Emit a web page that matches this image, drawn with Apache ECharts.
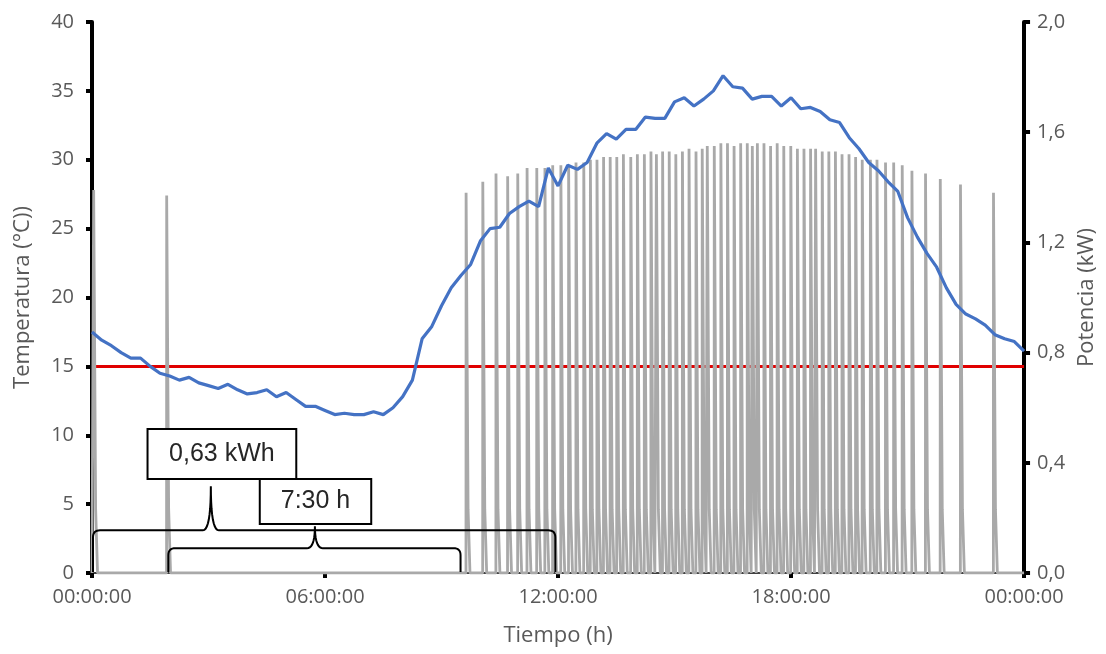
<!DOCTYPE html>
<html><head><meta charset="utf-8">
<script src="https://cdn.jsdelivr.net/npm/echarts@6/dist/echarts.min.js"></script>
<style>html,body{margin:0;padding:0;background:#fff}#c{width:1106px;height:654px}</style>
</head><body><div id="c"></div>
<script>
// ---- data ----
const tempStepHours = 0.25;
const temperature = [
  17.5,16.9,16.5,16.0,15.6,15.6,15.0,14.5,14.3,14.0,14.2,13.8,13.6,13.4,13.7,13.3,
  13.0,13.1,13.3,12.8,13.1,12.6,12.1,12.1,11.8,11.5,11.6,11.5,11.5,11.7,11.5,12.0,
  12.8,14.0,17.0,17.9,19.4,20.7,21.6,22.4,24.1,25.0,25.1,26.1,26.6,27.0,26.6,29.4,
  28.1,29.6,29.3,29.8,31.2,31.9,31.5,32.2,32.2,33.1,33.0,33.0,34.2,34.5,33.9,34.4,
  35.0,36.1,35.3,35.2,34.4,34.6,34.6,33.9,34.5,33.7,33.8,33.5,32.9,32.7,31.6,30.8,
  29.8,29.2,28.4,27.7,25.8,24.4,23.2,22.2,20.7,19.5,18.8,18.45,18.0,17.3,17.0,16.8,
  16.1
];
const setpoint = 15;
const spikeTimes = [
  0.04,1.92,
  9.63,10.06,10.40,10.70,10.96,11.20,11.45,11.66,11.86,12.07,12.27,12.46,12.66,12.83,
  13.00,13.17,13.34,13.51,13.68,13.87,14.04,14.22,14.39,14.53,14.69,14.86,15.03,15.20,
  15.37,15.55,15.71,15.84,16.02,16.19,16.36,16.53,16.70,16.87,17.00,17.13,17.30,17.47,
  17.64,17.81,17.99,18.16,18.33,18.50,18.63,18.80,18.97,19.14,19.31,19.49,19.66,19.83,
  20.04,20.21,20.43,20.64,20.86,21.11,21.46,21.84,22.36,23.21
];
const spikePeaks = [
  1.39,1.37,
  1.38,1.42,1.45,1.44,1.45,1.47,1.47,1.47,1.48,1.48,1.48,1.49,1.49,1.50,
  1.50,1.51,1.51,1.51,1.52,1.51,1.52,1.52,1.53,1.52,1.53,1.53,1.52,1.53,
  1.54,1.53,1.54,1.55,1.55,1.56,1.56,1.55,1.56,1.56,1.55,1.56,1.56,1.55,
  1.56,1.55,1.55,1.54,1.54,1.54,1.54,1.53,1.53,1.53,1.52,1.52,1.51,1.50,
  1.50,1.50,1.49,1.49,1.48,1.46,1.45,1.43,1.41,1.38
];
const plateauPower = 0.23;
const timeTickLabels = ['00:00:00','06:00:00','12:00:00','18:00:00','00:00:00'];

// annotation layout (in data units: hours / °C)
const notes = [
  {label:'0,63 kWh', from:0.0, to:11.93, level:3.1, tip:3.06, tipLevel:6.3, box:[1.43,5.26,6.82,10.45]},
  {label:'7:30 h',   from:1.94, to:9.49, level:1.8, tip:5.74, tipLevel:3.4, box:[4.32,7.19,3.56,6.82]}
];

// ---- build series ----
const tempData = temperature.map((t,i)=>[i*tempStepHours, t]);
const powerData = [[0,0]];
spikeTimes.forEach((t,i)=>{
  const p = spikePeaks[i];
  powerData.push([t,0],[t+0.003,p],[t+0.05,p],[t+0.054,plateauPower],[t+0.1,plateauPower],[t+0.103,0]);
});
powerData.push([24,0]);
const setData = [[0,setpoint],[24,setpoint]];

function quad(p0,c,p1,n){
  const out=[];
  for(let k=1;k<=n;k++){const s=k/n;
    out.push([(1-s)*(1-s)*p0[0]+2*(1-s)*s*c[0]+s*s*p1[0],(1-s)*(1-s)*p0[1]+2*(1-s)*s*c[1]+s*s*p1[1]]);}
  return out;
}

const fontFam = '"Open Sans", sans-serif';
const labelColor = '#595959';

const chart = echarts.init(document.getElementById('c'), null, {renderer:'canvas'});
chart.setOption({
  animation:false,
  backgroundColor:'#fff',
  grid:{left:92, right:80, top:22, bottom:81, containLabel:false},
  xAxis:{
    type:'value', min:0, max:24, interval:6,
    axisLine:{show:true, onZero:false, lineStyle:{color:'#404040', width:2}},
    axisTick:{show:true, length:5, lineStyle:{color:'#000', width:4}},
    splitLine:{show:false},
    axisLabel:{color:labelColor, fontFamily:fontFam, fontSize:20, margin:14,
      formatter:(v)=>timeTickLabels[Math.round(v/6)]},
    name:'Tiempo (h)', nameLocation:'middle', nameGap:52,
    nameTextStyle:{color:labelColor, fontFamily:fontFam, fontSize:22}
  },
  yAxis:[{
    type:'value', min:0, max:40, interval:5, position:'left',
    axisLine:{show:true, lineStyle:{color:'#000', width:4}},
    axisTick:{show:true, length:6, lineStyle:{color:'#000', width:4}},
    splitLine:{show:false},
    axisLabel:{color:labelColor, fontFamily:fontFam, fontSize:20, margin:18},
    name:'Temperatura (°C))', nameLocation:'middle', nameGap:58, nameRotate:90,
    nameTextStyle:{color:labelColor, fontFamily:fontFam, fontSize:22}
  },{
    type:'value', min:0, max:2, interval:0.4, position:'right',
    axisLine:{show:true, lineStyle:{color:'#000', width:4}},
    axisTick:{show:true, length:6, lineStyle:{color:'#000', width:4}},
    splitLine:{show:false},
    axisLabel:{color:labelColor, fontFamily:fontFam, fontSize:20, margin:13,
      formatter:(v)=>v.toFixed(1).replace('.',',')},
    name:'Potencia (kW)', nameLocation:'middle', nameGap:50, nameRotate:90,
    nameTextStyle:{color:labelColor, fontFamily:fontFam, fontSize:22}
  }],
  series:[
    {type:'line', name:'Consigna', data:setData, yAxisIndex:0, showSymbol:false, z:2,
      lineStyle:{color:'#e00000', width:3}},
    {type:'line', name:'Potencia', data:powerData, yAxisIndex:1, showSymbol:false, z:3,
      lineStyle:{color:'#a9a9a9', width:2.8}},
    {type:'line', name:'Temperatura', data:tempData, yAxisIndex:0, showSymbol:false, z:4,
      lineStyle:{color:'#4472c4', width:3.2}},
    {type:'custom', name:'notes', coordinateSystem:'cartesian2d', xAxisIndex:0, yAxisIndex:0, z:10, clip:false,
      data:notes.map((n,i)=>[n.tip, n.tipLevel]),
      renderItem:(params, api)=>{
        const n = notes[params.dataIndex];
        const base = api.coord([0,0])[1]-1;
        const yTop = api.coord([0,n.level])[1];
        const x0 = api.coord([n.from,0])[0]+1, x1 = api.coord([n.to,0])[0];
        const xm = api.coord([n.tip,0])[0], yTip = api.coord([0,n.tipLevel])[1];
        const r = 7, w = 8;
        let pts = [[x0,base],[x0,yTop+r]];
        pts = pts.concat(quad([x0,yTop+r],[x0,yTop],[x0+r,yTop],8));
        pts.push([xm-w,yTop]);
        pts = pts.concat(quad([xm-w,yTop],[xm,yTop],[xm,yTip],10));
        pts = pts.concat(quad([xm,yTip],[xm,yTop],[xm+w,yTop],10));
        pts.push([x1-r,yTop]);
        pts = pts.concat(quad([x1-r,yTop],[x1,yTop],[x1,yTop+r],8));
        pts.push([x1,base]);
        const bl = api.coord([n.box[0], n.box[3]]);
        const br = api.coord([n.box[1], n.box[2]]);
        return {type:'group', children:[
          {type:'polyline', shape:{points:pts}, style:{stroke:'#000', lineWidth:2, fill:null}},
          {type:'rect', shape:{x:bl[0], y:bl[1], width:br[0]-bl[0], height:br[1]-bl[1]},
            style:{fill:'#fff', stroke:'#000', lineWidth:2}},
          {type:'text', x:(bl[0]+br[0])/2, y:(bl[1]+br[1])/2,
            style:{text:n.label, fill:'#262626', font:'25px "Liberation Sans", Arial, sans-serif', align:'center', verticalAlign:'middle'}}
        ]};
      }
    }
  ]
});
</script></body></html>
